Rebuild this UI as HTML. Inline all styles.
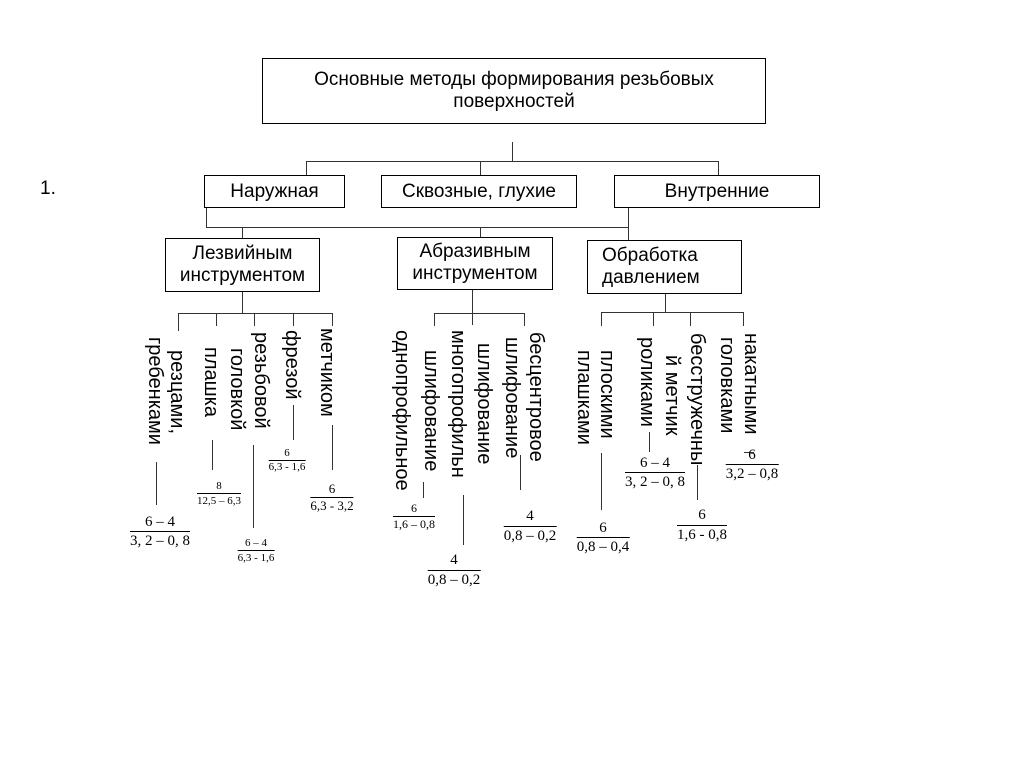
<!DOCTYPE html>
<html><head><meta charset="utf-8"><style>
body{margin:0;width:1024px;height:767px;background:#fff;position:relative;overflow:hidden;font-family:"Liberation Sans",sans-serif;color:#000}
.a{position:absolute}
.box{position:absolute;border:1.5px solid #000;box-sizing:border-box;display:flex;align-items:center;justify-content:center;text-align:center;font-size:19px;line-height:22px}
.h{position:absolute;height:0;border-top:1.5px solid #333}
.v{position:absolute;width:0;border-left:1.5px solid #333}
.vt{position:absolute;writing-mode:vertical-rl;font-size:20px;line-height:22px;width:22px;white-space:nowrap;margin-left:-1px}
.fr{position:absolute;font-family:"Liberation Serif",serif;text-align:center;transform:translateX(-50%);white-space:nowrap}
.fr .n{border-bottom:1px solid #000;padding:0 3px}
</style></head><body>
<div class="a" style="left:40px;top:178px;font-size:19px">1.</div>
<div class="box" style="left:262px;top:58px;width:504px;height:66px">Основные методы формирования резьбовых<br>поверхностей</div>
<div class="v" style="left:512px;top:142px;height:20px"></div>
<div class="h" style="left:306px;top:161px;width:412px"></div>
<div class="v" style="left:306px;top:161px;height:14px"></div>
<div class="v" style="left:480px;top:161px;height:14px"></div>
<div class="v" style="left:718px;top:161px;height:14px"></div>
<div class="box" style="left:204px;top:175px;width:141px;height:33px">Наружная</div>
<div class="box" style="left:381px;top:175px;width:196px;height:33px">Сквозные, глухие</div>
<div class="box" style="left:614px;top:175px;width:206px;height:33px">Внутренние</div>
<div class="v" style="left:206px;top:208px;height:19px"></div>
<div class="v" style="left:628px;top:208px;height:19px"></div>
<div class="h" style="left:206px;top:227px;width:422px"></div>
<div class="v" style="left:242px;top:227px;height:11px"></div>
<div class="v" style="left:480px;top:227px;height:10px"></div>
<div class="v" style="left:628px;top:227px;height:13px"></div>
<div class="box" style="left:165px;top:238px;width:155px;height:54px">Лезвийным<br>инструментом</div>
<div class="box" style="left:397px;top:237px;width:156px;height:53px;align-items:flex-start;padding-top:3px">Абразивным<br>инструментом</div>
<div class="box" style="left:587px;top:240px;width:155px;height:54px;justify-content:flex-start;padding-left:14px;text-align:left">Обработка<br>давлением</div>
<!-- branch 1 -->
<div class="v" style="left:242px;top:292px;height:21px"></div>
<div class="h" style="left:178px;top:313px;width:154px"></div>
<div class="v" style="left:178px;top:313px;height:18px"></div>
<div class="v" style="left:216px;top:313px;height:13px"></div>
<div class="v" style="left:254px;top:313px;height:13px"></div>
<div class="v" style="left:293px;top:313px;height:13px"></div>
<div class="v" style="left:332px;top:313px;height:13px"></div>
<div class="vt" style="left:167px;top:350px">резцами,</div>
<div class="vt" style="left:145px;top:337px">гребенками</div>
<div class="vt" style="left:201px;top:347px">плашка</div>
<div class="vt" style="left:227px;top:348px">головкой</div>
<div class="vt" style="left:251px;top:332px">резьбовой</div>
<div class="vt" style="left:282px;top:330px">фрезой</div>
<div class="vt" style="left:317px;top:328px">метчиком</div>
<div class="v" style="left:156px;top:462px;height:43px"></div>
<div class="v" style="left:212px;top:440px;height:30px"></div>
<div class="v" style="left:253px;top:445px;height:83px"></div>
<div class="v" style="left:293px;top:405px;height:35px"></div>
<div class="v" style="left:332px;top:425px;height:45px"></div>
<div class="fr" style="left:160px;top:513px;font-size:15px;line-height:18px"><div class="n">6 – 4</div><div>3, 2 – 0, 8</div></div>
<div class="fr" style="left:219px;top:479px;font-size:11px;line-height:14px"><div class="n">8</div><div>12,5 – 6,3</div></div>
<div class="fr" style="left:256px;top:536px;font-size:11px;line-height:14px"><div class="n">6 – 4</div><div>6,3 - 1,6</div></div>
<div class="fr" style="left:287px;top:447px;font-size:11px;line-height:13px"><div class="n">6</div><div>6,3 - 1,6</div></div>
<div class="fr" style="left:332px;top:481px;font-size:13px;line-height:16px"><div class="n">6</div><div>6,3 - 3,2</div></div>
<!-- branch 2 -->
<div class="v" style="left:472px;top:290px;height:35px"></div>
<div class="h" style="left:434px;top:313px;width:90px"></div>
<div class="v" style="left:434px;top:313px;height:13px"></div>
<div class="v" style="left:524px;top:313px;height:13px"></div>
<div class="vt" style="left:392px;top:330px">однопрофильное</div>
<div class="vt" style="left:421px;top:350px">шлифование</div>
<div class="vt" style="left:448px;top:330px">многопрофильн</div>
<div class="vt" style="left:474px;top:343px">шлифование</div>
<div class="vt" style="left:502px;top:337px">шлифование</div>
<div class="vt" style="left:526px;top:332px">бесцентровое</div>
<div class="v" style="left:423px;top:482px;height:16px"></div>
<div class="v" style="left:463px;top:495px;height:50px"></div>
<div class="v" style="left:520px;top:455px;height:35px"></div>
<div class="fr" style="left:414px;top:501px;font-size:12px;line-height:15px"><div class="n">6</div><div>1,6 – 0,8</div></div>
<div class="fr" style="left:454px;top:551px;font-size:15px;line-height:19px"><div class="n">4</div><div>0,8 – 0,2</div></div>
<div class="fr" style="left:530px;top:507px;font-size:15px;line-height:19px"><div class="n">4</div><div>0,8 – 0,2</div></div>
<!-- branch 3 -->
<div class="v" style="left:665px;top:294px;height:18px"></div>
<div class="h" style="left:601px;top:312px;width:142px"></div>
<div class="v" style="left:601px;top:312px;height:14px"></div>
<div class="v" style="left:653px;top:312px;height:14px"></div>
<div class="v" style="left:690px;top:312px;height:14px"></div>
<div class="v" style="left:743px;top:312px;height:14px"></div>
<div class="vt" style="left:597px;top:350px">плоскими</div>
<div class="vt" style="left:574px;top:350px">плашками</div>
<div class="vt" style="left:637px;top:337px">роликами</div>
<div class="vt" style="left:662px;top:355px">й метчик</div>
<div class="vt" style="left:687px;top:333px">бесстружечны</div>
<div class="vt" style="left:717px;top:337px">головками</div>
<div class="vt" style="left:741px;top:333px">накатными</div>
<div class="v" style="left:601px;top:453px;height:57px"></div>
<div class="v" style="left:649px;top:432px;height:20px"></div>
<div class="v" style="left:697px;top:465px;height:35px"></div>
<div class="h" style="left:744px;top:452px;width:10px"></div>
<div class="fr" style="left:603px;top:519px;font-size:15px;line-height:18px"><div class="n">6</div><div>0,8 – 0,4</div></div>
<div class="fr" style="left:655px;top:454px;font-size:15px;line-height:18px"><div class="n">6 – 4</div><div>3, 2 – 0, 8</div></div>
<div class="fr" style="left:702px;top:506px;font-size:15px;line-height:19px"><div class="n">6</div><div>1,6 - 0,8</div></div>
<div class="fr" style="left:752px;top:446px;font-size:15px;line-height:18px"><div class="n">6</div><div>3,2 – 0,8</div></div>
</body></html>
